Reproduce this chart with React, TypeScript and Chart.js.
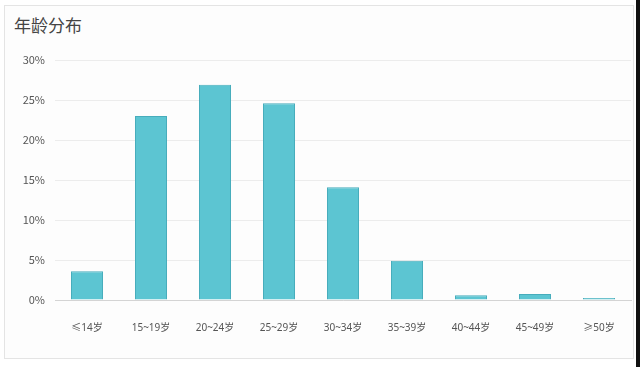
import React, { useEffect, useRef } from "react";
import { Chart, registerables } from "chart.js";

Chart.register(...registerables);

const categories = ["≤14岁", "15~19岁", "20~24岁", "25~29岁", "30~34岁", "35~39岁", "40~44岁", "45~49岁", "≥50岁"];
const shares = [3.6, 23.0, 26.9, 24.6, 14.1, 4.9, 0.6, 0.75, 0.25];
const yTicks = [0, 5, 10, 15, 20, 25, 30];

export default function App() {
  const ref = useRef<HTMLCanvasElement | null>(null);

  useEffect(() => {
    document.body.style.margin = "0";
    const ctx = ref.current!;
    const chart = new Chart(ctx, {
      type: "bar",
      data: {
        labels: categories,
        datasets: [
          {
            data: shares,
            backgroundColor: "#5cc5d2",
            borderColor: "#47adbc",
            borderWidth: 1,
            barPercentage: 0.5,
            categoryPercentage: 1,
          },
        ],
      },
      options: {
        animation: false,
        responsive: false,
        maintainAspectRatio: false,
        layout: { padding: { left: 0, right: 9, top: 60, bottom: 0 } },
        plugins: { legend: { display: false }, tooltip: { enabled: false } },
        scales: {
          x: {
            grid: { display: false, drawTicks: false },
            border: { display: true, color: "#d4d4d4", width: 1 },
            ticks: {
              color: "#555",
              padding: 22,
              font: { family: "'Noto Sans', 'Noto Sans CJK SC', sans-serif", size: 10 },
              maxRotation: 0,
              autoSkip: false,
            },
            afterFit: (s: any) => {
              s.height = 67;
            },
          },
          y: {
            min: 0,
            max: 30,
            afterBuildTicks: (s: any) => {
              s.ticks = yTicks.map((v) => ({ value: v }));
            },
            grid: { color: "#ececec", drawTicks: false, lineWidth: 1 },
            border: { display: false },
            ticks: {
              color: "#555",
              padding: 10,
              font: { family: "'Noto Sans CJK SC', 'Noto Sans', sans-serif", size: 11 },
              callback: (v: any) => v + "%",
            },
            afterFit: (s: any) => {
              s.width = 55;
            },
          },
        },
      },
    });
    return () => chart.destroy();
  }, []);

  return (
    <div style={{ position: "relative", width: 640, height: 367, background: "#ffffff", overflow: "hidden" }}>
      <div
        style={{
          position: "absolute",
          left: 4,
          top: 5,
          width: 628,
          height: 352,
          border: "1px solid #e4e4e4",
          background: "#fdfdfd",
        }}
      />
      <div
        style={{
          position: "absolute",
          left: 14,
          top: 14,
          fontFamily: "'Noto Sans CJK SC', sans-serif",
          fontSize: 17,
          color: "#444",
          lineHeight: "22px",
        }}
      >
        年龄分布
      </div>
      <canvas ref={ref} width={640} height={367} style={{ position: "absolute", left: 0, top: 0 }} />
      <div style={{ position: "absolute", left: 636, top: 0, width: 4, height: 367, background: "#111" }} />
    </div>
  );
}
